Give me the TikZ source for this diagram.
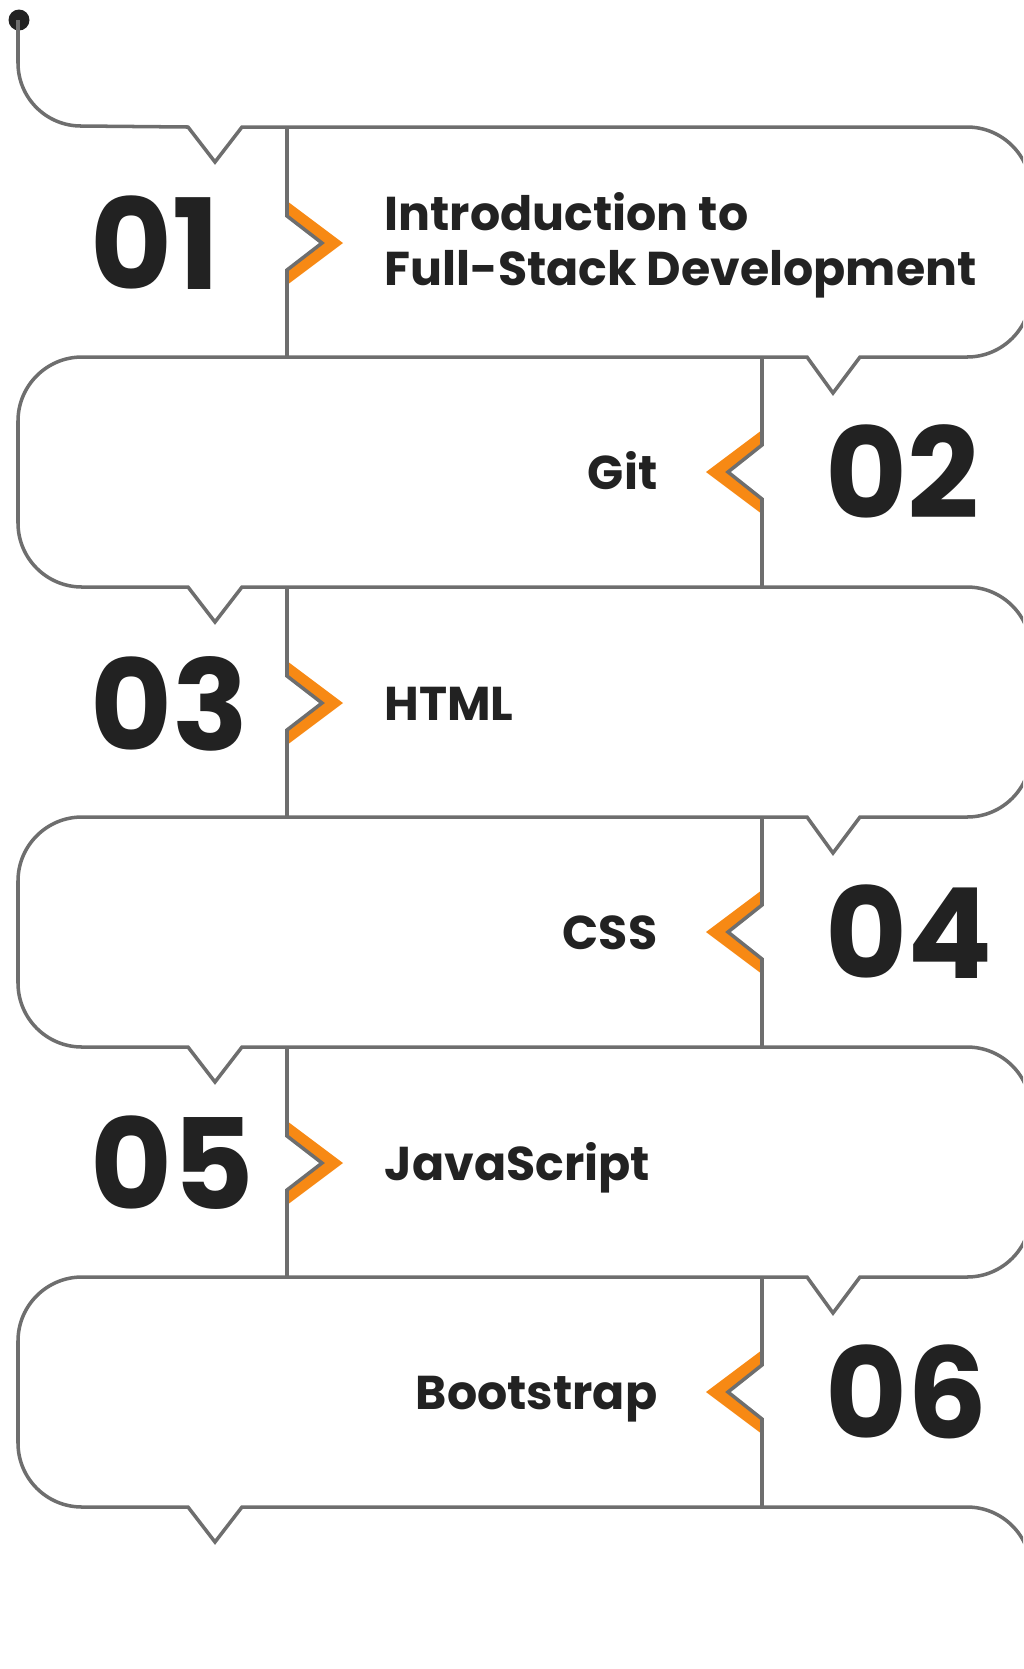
\documentclass[tikz,border=0pt]{standalone}
\usepackage{fontspec}
\setmainfont{Poppins}
\usepackage{tikz}
\definecolor{linegray}{RGB}{110,110,110}
\definecolor{stepor}{RGB}{247,137,20}
\definecolor{inkdark}{RGB}{34,34,34}

\begin{document}
\begin{tikzpicture}[x=0.1mm, y=-0.1mm,
        rail/.style={draw=linegray, line width=1pt, line join=miter},
        num/.style={font=\fontsize{35.8}{36}\selectfont\bfseries, text=inkdark, anchor=west, text depth=0pt, inner sep=0pt},
        lab/.style={font=\fontsize{13.5}{15.6}\selectfont\bfseries, text=inkdark, inner sep=0pt}]
        \path[use as bounding box] (0,0) rectangle (1023,1669);
        \clip (0,0) rectangle (1023,1669);
        \coordinate (start) at (19,20);
        \fill[inkdark] (start) circle[radius=1.05mm];
        % the long line from the dot down through all six rows
        \draw[rail] (18,20) -- (18,63) arc[start angle=180, end angle=90, radius=63]
            -- (188,127) -- (215,162) -- (242,127) -- (967,127) arc[start angle=-90, end angle=0, radius=64]
            -- (1031,293) arc[start angle=0, end angle=90, radius=64]
            -- (860,357) -- (833,393) -- (807,357) -- (82,357) arc[start angle=-90, end angle=-180, radius=64]
            -- (18,523) arc[start angle=180, end angle=90, radius=64]
            -- (188,587) -- (215,622) -- (242,587) -- (967,587) arc[start angle=-90, end angle=0, radius=64]
            -- (1031,753) arc[start angle=0, end angle=90, radius=64]
            -- (860,817) -- (833,853) -- (807,817) -- (82,817) arc[start angle=-90, end angle=-180, radius=64]
            -- (18,983) arc[start angle=180, end angle=90, radius=64]
            -- (188,1047) -- (215,1082) -- (242,1047) -- (967,1047) arc[start angle=-90, end angle=0, radius=64]
            -- (1031,1213) arc[start angle=0, end angle=90, radius=64]
            -- (860,1277) -- (833,1313) -- (807,1277) -- (82,1277) arc[start angle=-90, end angle=-180, radius=64]
            -- (18,1443) arc[start angle=180, end angle=90, radius=64]
            -- (188,1507) -- (215,1542) -- (242,1507) -- (967,1507) arc[start angle=-90, end angle=0, radius=64]
            -- (1031,1669);
        % dividers with the orange marks
        \fill[stepor] (287,201) -- (343,243) -- (287,285) -- (287,270) -- (322,243) -- (287,216) -- cycle;
        \draw[rail] (287,127) -- (287,216) -- (322,243) -- (287,270) -- (287,357);
        \fill[stepor] (762,430) -- (706,472) -- (762,514) -- (762,499) -- (728,472) -- (762,445) -- cycle;
        \draw[rail] (762,357) -- (762,445) -- (728,472) -- (762,499) -- (762,587);
        \fill[stepor] (287,661) -- (343,703) -- (287,745) -- (287,730) -- (322,703) -- (287,676) -- cycle;
        \draw[rail] (287,587) -- (287,676) -- (322,703) -- (287,730) -- (287,817);
        \fill[stepor] (762,890) -- (706,932) -- (762,974) -- (762,959) -- (728,932) -- (762,905) -- cycle;
        \draw[rail] (762,817) -- (762,905) -- (728,932) -- (762,959) -- (762,1047);
        \fill[stepor] (287,1121) -- (343,1163) -- (287,1205) -- (287,1190) -- (322,1163) -- (287,1136) -- cycle;
        \draw[rail] (287,1047) -- (287,1136) -- (322,1163) -- (287,1190) -- (287,1277);
        \fill[stepor] (762,1350) -- (706,1392) -- (762,1434) -- (762,1419) -- (728,1392) -- (762,1365) -- cycle;
        \draw[rail] (762,1277) -- (762,1365) -- (728,1392) -- (762,1419) -- (762,1507);
        \node[num] (n01) at (90,243) {01};
        \node[num] (n02) at (825,472) {02};
        \node[num] (n03) at (90,703) {03};
        \node[num] (n04) at (825,932) {04};
        \node[num] (n05) at (90,1163) {05};
        \node[num] (n06) at (825,1392) {06};
        \node[lab, anchor=west, align=left] (l01) at (384,245) {Introduction to\\Full-Stack Development};
        \node[lab, anchor=base east] (l02) at (658,489) {Git};
        \node[lab, anchor=base west] (l03) at (384,720) {HTML};
        \node[lab, anchor=base east] (l04) at (658,949) {CSS};
        \node[lab, anchor=base west] (l05) at (384,1180) {JavaScript};
        \node[lab, anchor=base east] (l06) at (658,1409) {Bootstrap};
    \end{tikzpicture}
\end{document}
